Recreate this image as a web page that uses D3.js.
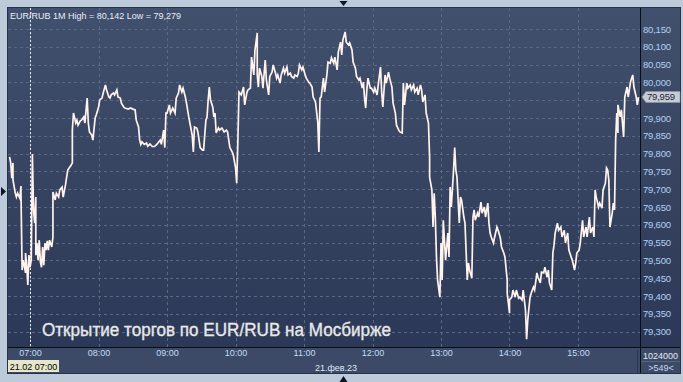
<!DOCTYPE html>
<html>
<head>
<meta charset="utf-8">
<script src="https://cdn.jsdelivr.net/npm/d3@7"></script>
<style>
  body { margin: 0; background: #bccada; }
  svg { display: block; font-family: "Liberation Sans", Arial, sans-serif; }
</style>
</head>
<body>
<svg id="chart" width="683" height="382"></svg>
<script>
// 1-minute closes, 21 Feb 2023
const times = [
  "06:42","06:43","06:44","06:45","06:45","06:47","06:48","06:49","06:51","06:52","06:52","06:53","06:54","06:56","06:56","06:57","06:58","06:59",
  "07:00","07:01","07:02","07:03","07:04","07:05","07:05","07:06","07:07","07:08","07:09","07:10","07:11","07:12","07:13","07:14","07:15","07:16","07:17","07:19","07:20","07:20","07:22","07:23","07:25","07:26","07:28","07:29","07:31","07:32","07:33","07:36","07:37","07:37","07:38","07:40","07:41","07:42","07:44","07:45","07:47","07:48","07:50","07:51","07:52","07:54","07:55","07:57","07:58",
  "08:00","08:01","08:03","08:04","08:06","08:07","08:09","08:10","08:11","08:13","08:14","08:16","08:17","08:19","08:20","08:22","08:23","08:26","08:28","08:30","08:32","08:33","08:35","08:36","08:37","08:38","08:40","08:42","08:43","08:45","08:47","08:49","08:51","08:52","08:54","08:55","08:57","08:58","08:59",
  "09:00","09:02","09:03","09:05","09:07","09:08","09:10","09:11","09:13","09:14","09:16","09:17","09:19","09:20","09:22","09:23","09:24","09:26","09:27","09:29","09:31","09:32","09:34","09:35","09:36","09:37","09:38","09:40","09:41","09:42","09:43","09:45","09:46","09:48","09:50","09:52","09:53","09:55","09:57","09:58",
  "10:00","10:01","10:02","10:03","10:05","10:07","10:08","10:10","10:11","10:13","10:14","10:16","10:17","10:19","10:19","10:20","10:21","10:23","10:24","10:26","10:27","10:29","10:30","10:32","10:33","10:35","10:36","10:37","10:39","10:40","10:42","10:43","10:45","10:46","10:48","10:49","10:51","10:52","10:54","10:55","10:56","10:58","10:59",
  "11:01","11:02","11:04","11:05","11:07","11:08","11:10","11:11","11:12","11:13","11:14","11:15","11:17","11:18","11:20","11:21","11:23","11:24","11:26","11:27","11:29","11:30","11:32","11:33","11:34","11:36","11:37","11:39","11:40","11:42","11:43","11:45","11:46","11:48","11:49","11:51","11:52","11:53","11:54","11:55","11:56","11:58","11:59",
  "12:01","12:02","12:04","12:05","12:07","12:08","12:09","12:11","12:12","12:14","12:15","12:17","12:18","12:20","12:21","12:23","12:24","12:26","12:27","12:28","12:30","12:31","12:33","12:34","12:36","12:37","12:39","12:40","12:42","12:43","12:44","12:46","12:47","12:49","12:50","12:50","12:52","12:53","12:54","12:55","12:56","12:57","12:59",
  "13:00","13:01","13:02","13:04","13:05","13:06","13:07","13:08","13:09","13:11","13:12","13:13","13:14","13:16","13:17","13:18","13:20","13:21","13:23","13:24","13:25","13:27","13:28","13:29","13:30","13:32","13:33","13:35","13:36","13:38","13:39","13:41","13:42","13:43","13:44","13:46","13:47","13:49","13:50","13:52","13:53","13:55","13:56","13:58","13:58",
  "14:00","14:00","14:02","14:03","14:05","14:06","14:08","14:09","14:11","14:12","14:14","14:15","14:16","14:18","14:19","14:21","14:22","14:24","14:25","14:27","14:28","14:30","14:31","14:33","14:34","14:35","14:37","14:38","14:39","14:40","14:42","14:43","14:45","14:46","14:48","14:49","14:51","14:52","14:54","14:55","14:57","14:58","14:59",
  "15:01","15:02","15:04","15:05","15:07","15:08","15:10","15:11","15:13","15:14","15:15","15:16","15:18","15:19","15:21","15:22","15:24","15:25","15:26","15:27","15:28","15:30","15:31","15:32","15:33","15:34","15:35","15:35","15:37","15:38","15:40","15:41","15:43","15:44","15:46","15:47","15:48","15:49","15:51","15:52","15:53"
];
const prices = [
  79.791,79.774,79.731,79.774,79.726,79.689,79.678,79.689,79.675,79.709,79.689,79.473,79.501,79.465,79.521,79.487,79.431,79.515,
  79.481,79.501,79.799,79.642,79.605,79.678,79.515,79.549,79.501,79.557,79.496,79.481,79.538,79.487,79.549,79.529,79.555,79.529,79.557,79.538,79.566,79.692,79.670,79.689,79.678,79.698,79.706,79.678,79.712,79.734,79.754,79.768,79.774,79.866,79.914,79.886,79.894,79.880,79.892,79.894,79.903,79.886,79.956,79.886,79.861,79.852,79.838,79.900,79.909,
  79.931,79.951,79.956,79.970,79.993,79.979,79.959,79.956,79.965,79.970,79.965,79.979,79.959,79.956,79.942,79.931,79.928,79.925,79.928,79.925,79.923,79.894,79.875,79.838,79.826,79.833,79.826,79.830,79.821,79.827,79.820,79.820,79.826,79.830,79.838,79.826,79.866,79.817,79.914,
  79.914,79.937,79.914,79.928,79.914,79.956,79.970,79.993,79.973,79.984,79.959,79.942,79.903,79.886,79.852,79.805,79.875,79.872,79.861,79.817,79.810,79.810,79.894,79.903,79.951,79.987,79.951,79.931,79.903,79.914,79.858,79.872,79.866,79.872,79.861,79.866,79.861,79.817,79.805,79.796,
  79.760,79.717,79.833,79.973,79.965,79.987,79.937,79.973,79.979,79.984,80.071,80.021,80.091,80.139,80.021,79.987,80.040,80.017,79.984,80.063,80.007,79.965,80.017,80.029,80.049,80.026,80.012,80.021,79.998,80.021,80.040,80.026,80.043,80.021,80.026,80.017,80.012,80.021,80.017,80.026,80.049,80.035,80.043,
  80.021,80.012,80.001,79.998,79.987,79.959,79.945,79.917,79.889,79.805,79.956,79.959,80.012,79.973,80.021,80.057,80.054,80.069,80.054,80.071,80.035,80.085,80.113,80.077,80.119,80.142,80.113,80.105,80.111,80.091,80.057,80.040,80.017,80.007,80.012,79.984,80.001,79.956,79.928,79.979,80.012,79.984,79.984,
  79.973,79.984,79.965,79.993,80.043,79.973,79.931,80.021,79.998,80.029,80.012,79.987,79.942,79.914,79.880,79.866,79.861,79.858,79.998,79.937,79.998,79.984,79.993,79.979,79.993,79.973,79.984,79.965,79.993,79.979,79.945,79.965,79.914,79.886,79.791,79.734,79.698,79.594,79.689,79.622,79.510,79.445,79.397,
  79.549,79.445,79.613,79.501,79.538,79.577,79.510,79.706,79.650,79.754,79.817,79.754,79.734,79.605,79.678,79.670,79.622,79.605,79.445,79.493,79.473,79.451,79.622,79.642,79.613,79.633,79.622,79.664,79.633,79.650,79.622,79.661,79.605,79.577,79.566,79.549,79.566,79.594,79.585,79.563,79.538,79.521,79.510,79.445,79.408,
  79.352,79.389,79.397,79.417,79.397,79.417,79.394,79.397,79.389,79.417,79.361,79.279,79.333,79.397,79.408,79.425,79.417,79.465,79.453,79.437,79.467,79.465,79.481,79.453,79.473,79.437,79.417,79.521,79.543,79.577,79.605,79.585,79.594,79.566,79.585,79.549,79.577,79.529,79.510,79.501,79.473,79.493,79.521,
  79.529,79.549,79.613,79.566,79.594,79.566,79.622,79.577,79.594,79.566,79.698,79.678,79.650,79.661,79.647,79.698,79.717,79.760,79.754,79.726,79.594,79.633,79.661,79.642,79.838,79.914,79.858,79.937,79.903,79.923,79.847,79.959,79.987,79.959,80.001,80.012,80.021,79.987,79.959,79.937,79.959
];

const priceTicks = [79.30,79.35,79.40,79.45,79.50,79.55,79.60,79.65,79.70,79.75,79.80,79.85,79.90,79.95,80.00,80.05,80.10,80.15];
const hourTicks = ["07:00","08:00","09:00","10:00","11:00","12:00","13:00","14:00","15:00"];
const timeDomain = ["06:40:38","15:54:20"];
const priceDomain = [79.257, 80.209];

const header = "EUR/RUB 1M High = 80,142 Low = 79,279";
const caption = "Открытие торгов по EUR/RUB на Мосбирже";
const lastPrice = 79.959;
const cursorTime = "07:00";
const cursorLabel = "21.02 07:00";
const dateLabel = "21.фев.23";
const volumeLabel = "1024000";
const barsLabel = ">549<";

const W = 683, H = 382;
const plot = { left: 8, top: 8, right: 640, bottom: 347 };
const axisRight = 680, panelBottom = 373;

const parseHM = d3.timeParse("%H:%M");
const parseHMS = d3.timeParse("%H:%M:%S");
const ru = d3.formatLocale({ decimal: ",", thousands: " ", grouping: [3], currency: ["", ""] });
const fmtPrice = ru.format(".3f");

const data = times.map((t, i) => ({ t: parseHM(t), v: prices[i] }));

const x = d3.scaleTime().domain(timeDomain.map(parseHMS)).range([plot.left, plot.right]);
const y = d3.scaleLinear().domain(priceDomain).range([plot.bottom, plot.top]);

const svg = d3.select("#chart");
const defs = svg.append("defs");
const grad = defs.append("linearGradient").attr("id", "bg").attr("x1", 0).attr("y1", 0).attr("x2", 0).attr("y2", 1);
grad.append("stop").attr("offset", "0%").attr("stop-color", "#41506c");
grad.append("stop").attr("offset", "100%").attr("stop-color", "#2b3857");
defs.append("clipPath").attr("id", "clip").append("rect")
  .attr("x", plot.left).attr("y", plot.top)
  .attr("width", plot.right - plot.left).attr("height", plot.bottom - plot.top);

// frame
svg.append("rect").attr("width", W).attr("height", H).attr("fill", "#bccada");
svg.append("rect").attr("x", plot.left - 1).attr("y", plot.top - 1)
  .attr("width", axisRight - plot.left + 2).attr("height", panelBottom - plot.top + 2).attr("fill", "#26324a");
svg.append("rect").attr("x", plot.left).attr("y", plot.top)
  .attr("width", axisRight - plot.left).attr("height", plot.bottom - plot.top).attr("fill", "url(#bg)");
svg.append("rect").attr("x", plot.left).attr("y", plot.bottom)
  .attr("width", axisRight - plot.left).attr("height", panelBottom - plot.bottom).attr("fill", "#3c4a67");

// grid
const grid = svg.append("g").attr("stroke", "#5a6884").attr("stroke-dasharray", "3,3").attr("stroke-width", 1);
grid.selectAll(".hg").data(priceTicks).join("line")
  .attr("x1", plot.left).attr("x2", plot.right)
  .attr("y1", d => Math.round(y(d)) + 0.5).attr("y2", d => Math.round(y(d)) + 0.5);
grid.selectAll(".vg").data(hourTicks.map(parseHM)).join("line")
  .attr("y1", plot.top).attr("y2", plot.bottom)
  .attr("x1", d => Math.round(x(d)) + 0.5).attr("x2", d => Math.round(x(d)) + 0.5);

// crosshair
const cx = Math.round(x(parseHM(cursorTime))) + 0.5;
svg.append("line").attr("x1", cx).attr("x2", cx).attr("y1", plot.top).attr("y2", plot.bottom)
  .attr("stroke", "#e6e9ee").attr("stroke-dasharray", "2,2");

// price line
svg.append("path").datum(data)
  .attr("clip-path", "url(#clip)")
  .attr("fill", "none")
  .attr("stroke", "#fff3ec")
  .attr("stroke-width", 1.7)
  .attr("stroke-linejoin", "miter")
  .attr("d", d3.line().x(d => x(d.t)).y(d => y(d.v)));

// caption
svg.append("text").attr("x", 42).attr("y", 336)
  .attr("fill", "#e8e8e8").attr("stroke", "#e8e8e8").attr("stroke-width", 0.35)
  .attr("font-size", 18)
  .attr("textLength", 349).attr("lengthAdjust", "spacingAndGlyphs")
  .text(caption);

// header
svg.append("text").attr("x", 10).attr("y", 19)
  .attr("fill", "#e8eef6").attr("font-size", 9)
  .text(header);

// separators
svg.append("line").attr("x1", plot.left).attr("x2", axisRight).attr("y1", plot.bottom + 0.5).attr("y2", plot.bottom + 0.5)
  .attr("stroke", "#0a0d14");
svg.append("line").attr("x1", plot.right + 0.5).attr("x2", plot.right + 0.5).attr("y1", plot.top).attr("y2", panelBottom)
  .attr("stroke", "#0a0d14");
svg.append("line").attr("x1", plot.right - 2.5).attr("x2", plot.right - 2.5).attr("y1", plot.bottom + 3).attr("y2", panelBottom)
  .attr("stroke", "#2c3650");
svg.append("line").attr("x1", plot.right + 1).attr("x2", axisRight).attr("y1", 361.5).attr("y2", 361.5)
  .attr("stroke", "#56647e");

// y axis (the label under the last-price marker is hidden, as in the terminal)
const lastY = y(lastPrice);
const shownTicks = priceTicks.filter(d => Math.abs(y(d) - lastY) > 8);
const yAxis = svg.append("g").attr("transform", `translate(${plot.right},0)`)
  .call(d3.axisRight(y).tickValues(shownTicks).tickFormat(fmtPrice).tickSize(0).tickPadding(3));
yAxis.select(".domain").remove();
yAxis.selectAll("text").attr("fill", "#b2d0f4").attr("font-size", 9.5).attr("letter-spacing", -0.2)
  .attr("font-family", "'Liberation Sans', Arial, sans-serif");

// x axis
const xAxis = svg.append("g").attr("transform", `translate(0,${plot.bottom + 3})`)
  .call(d3.axisBottom(x).tickValues(hourTicks.map(parseHM)).tickFormat(d3.timeFormat("%H:%M")).tickSize(0).tickPadding(0));
xAxis.select(".domain").remove();
xAxis.selectAll("text").attr("fill", "#c4dcf6").attr("font-size", 9)
  .attr("font-family", "'Liberation Sans', Arial, sans-serif");

// date under axis
svg.append("text").attr("x", (plot.left + plot.right) / 2 + 12).attr("y", 371)
  .attr("text-anchor", "middle").attr("fill", "#dfe6ef").attr("font-size", 9).text(dateLabel);

// cursor label
svg.append("rect").attr("x", plot.left).attr("y", 360).attr("width", 51).attr("height", 12).attr("fill", "#e6e6ca");
svg.append("text").attr("x", plot.left + 25.5).attr("y", 369.5).attr("text-anchor", "middle")
  .attr("fill", "#000").attr("font-size", 9).text(cursorLabel);

// last price marker
svg.append("path")
  .attr("d", `M${plot.right + 2},${lastY} L${plot.right + 6},${lastY - 5.5} L${axisRight},${lastY - 5.5} L${axisRight},${lastY + 5.5} L${plot.right + 6},${lastY + 5.5} Z`)
  .attr("fill", "#c6ccd6").attr("stroke", "#8d96a6").attr("stroke-width", 0.6);
svg.append("text").attr("x", plot.right + 7).attr("y", lastY + 3.4)
  .attr("fill", "#1f2737").attr("font-size", 9.5).attr("letter-spacing", -0.2).text(fmtPrice(lastPrice));

// volume / bar count
svg.append("text").attr("x", plot.right + 3).attr("y", 358.5)
  .attr("fill", "#e4ebf3").attr("font-size", 9).text(volumeLabel);
svg.append("text").attr("x", (plot.right + axisRight) / 2 + 1).attr("y", 371)
  .attr("text-anchor", "middle").attr("fill", "#c8d8ee").attr("font-size", 9).text(barsLabel);

// little markers on the frame
const mx = 343.5;
svg.append("path").attr("d", `M${mx - 4},1 L${mx + 4},1 L${mx},6 Z`).attr("fill", "#0e1420");
svg.append("path").attr("d", `M${mx - 4},${H} L${mx + 4},${H} L${mx},${H - 6} Z`).attr("fill", "#0e1420");
svg.append("path").attr("d", `M1,187 L1,196 L6,191.5 Z`).attr("fill", "#0e1420");
</script>
</body>
</html>
